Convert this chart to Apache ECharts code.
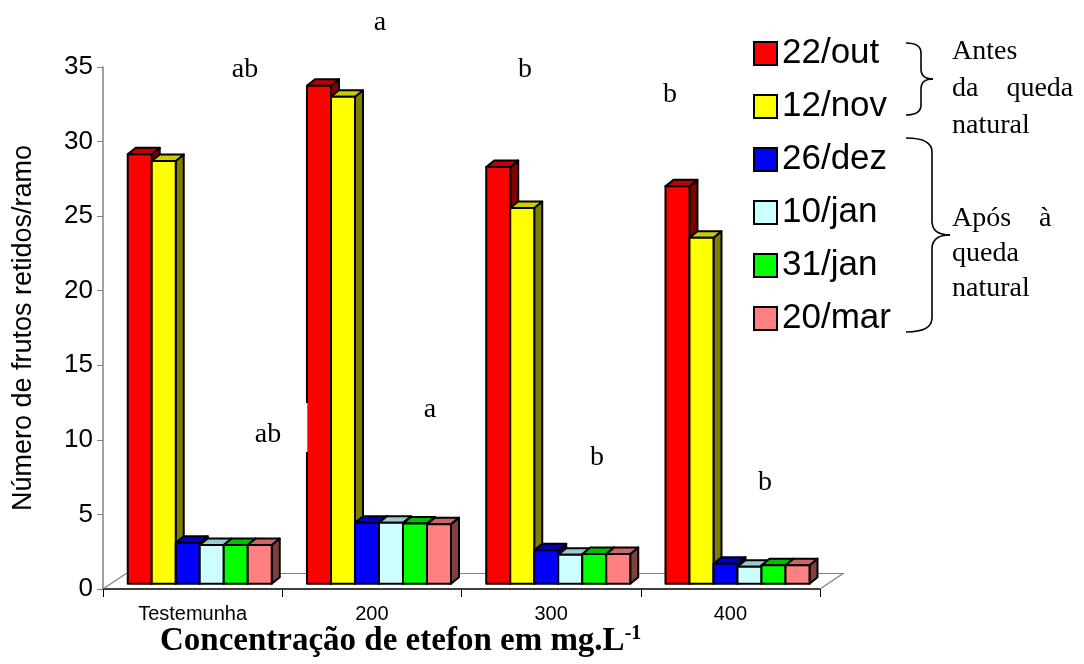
<!DOCTYPE html>
<html>
<head>
<meta charset="utf-8">
<script src="https://cdn.jsdelivr.net/npm/echarts@6/dist/echarts.min.js"></script>
<style>
  html, body { margin: 0; padding: 0; background: #fff; }
  #chart { width: 1084px; height: 664px; }
</style>
</head>
<body>
<div id="chart"></div>
<script>
// data
var categories = ['Testemunha', '200', '300', '400'];
var datas = ['22/out', '12/nov', '26/dez', '10/jan', '31/jan', '20/mar'];
var out22 = [28.8, 33.4, 27.95, 26.65];
var nov12 = [28.35, 32.65, 25.2, 23.2];
var dez26 = [2.75, 4.1, 2.25, 1.35];
var jan10 = [2.6, 4.1, 1.95, 1.15];
var jan31 = [2.6, 4.05, 2.0, 1.25];
var mar20 = [2.6, 4.0, 2.0, 1.25];
var values = [out22, nov12, dez26, jan10, jan31, mar20];
var yTicks = [0, 35, 5];

// significance letters: upper row (red bars), lower row (after drop)
var lettersTop = ['ab', 'a', 'b', 'b'];
var lettersLow = ['ab', 'a', 'b', 'b'];

var faces = [
  { front: '#FF0000', top: '#C00000', side: '#800000' },
  { front: '#FFFF00', top: '#CCCC00', side: '#808000' },
  { front: '#0000FF', top: '#0000C0', side: '#000080' },
  { front: '#CCFFFF', top: '#99CCCC', side: '#668080' },
  { front: '#00FF00', top: '#00C000', side: '#008000' },
  { front: '#FF8080', top: '#CC6666', side: '#804040' }
];

var SANS = "'Liberation Sans', Arial, sans-serif";
var SERIF = "'Liberation Serif', 'Times New Roman', serif";

// 3d look: front face sits 1/3 into the floor depth
var FRONT = [7.7, -5.2];
var DEPTH = [8, -6.5];

function box(s) {
  return function (params, api) {
    var ci = api.value(0);
    var base = api.coord([ci, 0]);
    var top = api.coord([ci, api.value(1)]);
    var band = api.size([1, 0])[0];
    var bw = band * 0.1339;
    var x0 = base[0] - band / 2 + band * 0.095 + FRONT[0] + s * bw;
    var yb = base[1] + FRONT[1];
    var yt = top[1] + FRONT[1];
    var dx = DEPTH[0], dy = DEPTH[1];
    var st = { stroke: '#000', lineWidth: 2, lineJoin: 'round' };
    return {
      type: 'group',
      children: [
        { type: 'polygon', shape: { points: [[x0 + bw, yt], [x0 + bw + dx, yt + dy], [x0 + bw + dx, yb + dy], [x0 + bw, yb]] },
          style: Object.assign({ fill: faces[s].side }, st) },
        { type: 'polygon', shape: { points: [[x0, yt], [x0 + dx, yt + dy], [x0 + bw + dx, yt + dy], [x0 + bw, yt]] },
          style: Object.assign({ fill: faces[s].top }, st) },
        { type: 'rect', shape: { x: x0, y: yt, width: bw, height: yb - yt },
          style: Object.assign({ fill: faces[s].front }, st) }
      ]
    };
  };
}

var series = datas.map(function (name, s) {
  return {
    name: name,
    type: 'custom',
    renderItem: box(s),
    itemStyle: { color: faces[s].front },
    encode: { x: 0, y: 1 },
    z: 2 + s,
    data: values[s].map(function (v, i) { return [i, v]; })
  };
});

// curly brace pointing right, built from quadratic curves and lines
function brace(x0, xb, xt, y0, y1, r) {
  var ym = (y0 + y1) / 2;
  var st = { stroke: '#000', lineWidth: 1.6, fill: null };
  return [
    { type: 'bezierCurve', z: 50, shape: { x1: x0, y1: y0, x2: xb, y2: y0 + r, cpx1: xb, cpy1: y0 }, style: st },
    { type: 'line', z: 50, shape: { x1: xb, y1: y0 + r, x2: xb, y2: ym - r }, style: st },
    { type: 'bezierCurve', z: 50, shape: { x1: xb, y1: ym - r, x2: xt, y2: ym, cpx1: xb, cpy1: ym }, style: st },
    { type: 'bezierCurve', z: 50, shape: { x1: xt, y1: ym, x2: xb, y2: ym + r, cpx1: xb, cpy1: ym }, style: st },
    { type: 'line', z: 50, shape: { x1: xb, y1: ym + r, x2: xb, y2: y1 - r }, style: st },
    { type: 'bezierCurve', z: 50, shape: { x1: xb, y1: y1 - r, x2: x0, y2: y1, cpx1: xb, cpy1: y1 }, style: st }
  ];
}

var chart = echarts.init(document.getElementById('chart'));

var letterStyle = { font: '28px ' + SERIF, fill: '#000', textAlign: 'center', textVerticalAlign: 'middle' };
var topPos = [[245, 70], [380, 23], [525, 70], [670, 95]];
var lowPos = [[268, 435], [430, 410], [597, 458], [765, 483]];
var letterGraphics = [];
lettersTop.forEach(function (t, i) {
  letterGraphics.push({ type: 'text', x: topPos[i][0], y: topPos[i][1], z: 100, style: Object.assign({ text: t }, letterStyle) });
});
lettersLow.forEach(function (t, i) {
  letterGraphics.push({ type: 'text', x: lowPos[i][0], y: lowPos[i][1], z: 100, style: Object.assign({ text: t }, letterStyle) });
});

var option = {
  animation: false,
  backgroundColor: '#fff',
  grid: { left: 103, right: 264, top: 67, bottom: 75, containLabel: false, outerBoundsMode: 'none' },
  legend: {
    orient: 'vertical',
    left: 748,
    top: 31,
    itemWidth: 23,
    itemHeight: 23,
    itemGap: 18,
    icon: 'rect',
    itemStyle: { borderColor: '#000', borderWidth: 2 },
    textStyle: { fontFamily: SANS, fontSize: 35, color: '#000' },
    data: datas
  },
  xAxis: {
    type: 'category',
    data: categories,
    boundaryGap: true,
    axisLine: { lineStyle: { color: '#000', width: 1.5 } },
    axisTick: { show: true, length: 8, lineStyle: { color: '#000' } },
    axisLabel: { fontFamily: SANS, fontSize: 20, color: '#000', margin: 15 },
    splitLine: { show: false }
  },
  yAxis: {
    type: 'value',
    min: yTicks[0],
    max: yTicks[1],
    interval: yTicks[2],
    name: 'Número de frutos retidos/ramo',
    nameLocation: 'middle',
    nameRotate: 90,
    nameGap: 66,
    nameTextStyle: { fontFamily: SANS, fontSize: 27, color: '#000' },
    axisLine: { show: true, lineStyle: { color: '#808080', width: 1.5 } },
    axisTick: { show: true, length: 6, lineStyle: { color: '#808080' } },
    axisLabel: { fontFamily: SANS, fontSize: 26, color: '#000', margin: 10 },
    splitLine: { show: false }
  },
  graphic: [
    // floor of the 3d plot
    { type: 'polyline', z: 1, shape: { points: [[103, 589], [126, 573.5], [843, 573.5], [820, 589]] },
      style: { stroke: '#808080', lineWidth: 1.2, fill: null } },
    // white box behind the lower "ab"
    { type: 'rect', z: 90, shape: { x: 238, y: 403, width: 69.5, height: 49 }, style: { fill: '#fff' } },
    { type: 'text', left: 952, top: 33, z: 50,
      style: { text: 'Antes\nda    queda\nnatural', font: '28px ' + SERIF, fill: '#000', lineHeight: 37 } },
    { type: 'text', left: 952, top: 201, z: 50,
      style: { text: 'Após    à\nqueda\nnatural', font: '28px ' + SERIF, fill: '#000', lineHeight: 35 } },
    // x axis title with superscript
    { type: 'text', left: 160, top: 624, z: 50,
      style: {
        text: '{m|Concentração de etefon em mg.L}{s|-1}',
        rich: {
          m: { fontFamily: SERIF, fontWeight: 'bold', fontSize: 33, color: '#000' },
          s: { fontFamily: SERIF, fontWeight: 'bold', fontSize: 20, color: '#000', verticalAlign: 'top', padding: [0, 0, 14, 0] }
        }
      } }
  ].concat(brace(906, 921, 933, 43, 115, 10))
   .concat(brace(906, 932, 950, 138, 332, 14))
   .concat(letterGraphics),
  series: series
};

chart.setOption(option);
</script>
</body>
</html>
